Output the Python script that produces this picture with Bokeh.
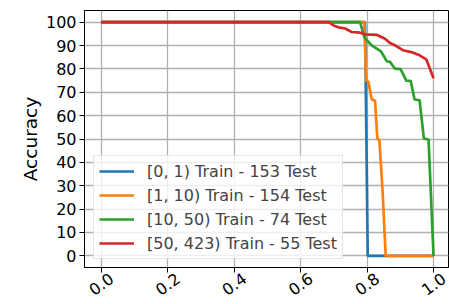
import math
from bokeh.plotting import figure
from bokeh.models import Range1d, FixedTicker, Legend, LegendItem
from bokeh.embed import file_html
from bokeh.resources import INLINE

# ---- data ----
blue_x = [0.0, 0.794, 0.802, 1.0]
blue_y = [100, 100, 0, 0]

orange_x = [0.0, 0.792, 0.797, 0.804, 0.814, 0.824, 0.831, 0.837, 0.847, 0.856, 1.0]
orange_y = [100, 100, 75.2, 74.5, 67.0, 66.4, 50.0, 49.7, 27.0, 0, 0]

green_x = [0.0, 0.779, 0.792, 0.814, 0.842, 0.859, 0.869, 0.884, 0.901, 0.918,
           0.931, 0.943, 0.958, 0.971, 0.985, 1.0]
green_y = [100, 100, 93.5, 90.1, 87.5, 83.3, 83.0, 80.1, 79.9, 75.0,
           74.9, 66.9, 66.6, 50.2, 49.8, 0]

red_x = [0.0, 0.684, 0.699, 0.714, 0.734, 0.754, 0.779, 0.794, 0.829, 0.854,
         0.869, 0.884, 0.908, 0.933, 0.958, 0.978, 1.0]
red_y = [100, 100, 98.6, 97.8, 97.3, 95.8, 95.5, 94.8, 94.6, 92.9,
         91.1, 90.1, 88.0, 87.2, 85.8, 84.1, 76.0]

series_labels = ["[0, 1) Train - 153 Test", "[1, 10) Train - 154 Test",
                 "[10, 50) Train - 74 Test", "[50, 423) Train - 55 Test"]
colors = ["#1f77b4", "#ff7f0e", "#2ca02c", "#d62728"]

x_ticks = [0.0, 0.2, 0.4, 0.6, 0.8, 1.0]
x_tick_labels = ["0.0", "0.2", "0.4", "0.6", "0.8", "1.0"]
y_ticks = [0, 10, 20, 30, 40, 50, 60, 70, 80, 90, 100]
y_label = "Accuracy"

X_MIN, X_MAX = -0.05, 1.045
Y_MIN, Y_MAX = -5, 105

FONT = "DejaVu Sans"
W, H = 449, 304
B_LEFT, B_RIGHT, B_TOP, B_BOTTOM = 84, 1, 10, 36
ANGLE = 0.62
LABEL_PX = 16

p = figure(width=W, height=H, output_backend="svg", toolbar_location=None,
           x_range=Range1d(X_MIN, X_MAX), y_range=Range1d(Y_MIN, Y_MAX),
           min_border_left=B_LEFT, min_border_right=B_RIGHT,
           min_border_top=B_TOP, min_border_bottom=B_BOTTOM)

p.outline_line_color = "black"
p.outline_line_width = 1
p.outline_line_alpha = 1

for ax in (p.xaxis[0], p.yaxis[0]):
    ax.axis_line_color = "black"
    ax.major_tick_line_color = "black"
    ax.major_tick_out = 5
    ax.major_tick_in = 0
    ax.minor_tick_line_color = None
    ax.major_label_text_font = FONT
    ax.major_label_text_font_size = f"{LABEL_PX}px"
    ax.major_label_text_color = "black"
    ax.major_label_standoff = 3

# Bokeh right-aligns rotated labels at the tick; matplotlib centres them.
# Shift the label anchors by half the rotated label width so that the texts
# are centred on the ticks; the tick marks themselves are drawn as "minor" ticks
# at the true positions.
px_per_unit = (W - B_LEFT - B_RIGHT) / (X_MAX - X_MIN)
half_w_px = 0.5 * 1.59 * LABEL_PX * math.cos(ANGLE)
shift = half_w_px / px_per_unit
label_pos = [t + shift for t in x_ticks]

xa = p.xaxis[0]
xa.ticker = FixedTicker(ticks=label_pos, minor_ticks=x_ticks)
xa.major_label_overrides = {pos: lab for pos, lab in zip(label_pos, x_tick_labels)}
xa.major_label_orientation = ANGLE
xa.major_tick_line_color = None
xa.major_tick_out = 0
xa.minor_tick_line_color = "black"
xa.minor_tick_out = 5
xa.minor_tick_in = 0
xa.major_label_standoff = 4

p.yaxis.ticker = FixedTicker(ticks=y_ticks)
p.yaxis.axis_label = y_label
p.yaxis.axis_label_text_font = FONT
p.yaxis.axis_label_text_font_size = "18.5px"
p.yaxis.axis_label_text_font_style = "normal"
p.yaxis.axis_label_text_color = "black"
p.yaxis.axis_label_standoff = 2

p.xgrid.ticker = FixedTicker(ticks=x_ticks)
p.ygrid.ticker = FixedTicker(ticks=y_ticks)
for g in (p.xgrid[0], p.ygrid[0]):
    g.grid_line_color = "#b0b0b0"
    g.grid_line_width = 1.3

items = []
for xs, ys, c, lab in zip([blue_x, orange_x, green_x, red_x],
                          [blue_y, orange_y, green_y, red_y], colors, series_labels):
    r = p.line(xs, ys, line_color=c, line_width=2.7)
    items.append(LegendItem(label=lab, renderers=[r]))

legend = Legend(items=items, location=(9, 8))
legend.label_text_font = FONT
legend.label_text_font_size = "16px"
legend.glyph_width = 35
legend.glyph_height = 20
legend.label_height = 20
legend.label_standoff = 13
legend.spacing = 4
legend.padding = 5
legend.margin = 0
legend.border_line_color = "#cccccc"
legend.border_line_width = 1
legend.background_fill_alpha = 0.8
p.add_layout(legend, "center")

open("out.html", "w").write(file_html(p, INLINE))
